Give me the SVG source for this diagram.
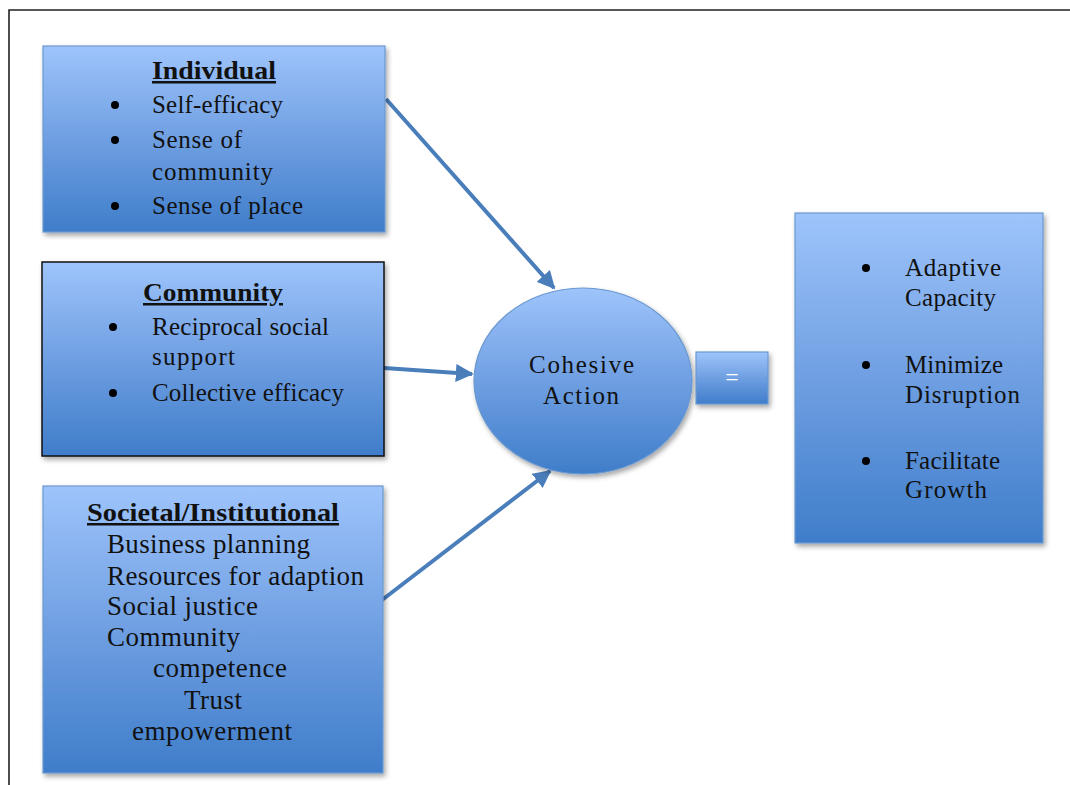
<svg xmlns="http://www.w3.org/2000/svg" width="1070" height="785" viewBox="0 0 1070 785">
<style>
.t{font-family:"Liberation Serif","Times New Roman",serif;font-size:25px;fill:#111}
.s{font-size:27px}
.h{font-weight:bold;text-decoration:underline}
.box{fill:url(#g);stroke:#6a98d0;stroke-width:1.2}
.conn{stroke:#4a7ebb;stroke-width:4;fill:none;marker-end:url(#ah)}
</style>
<defs>
<linearGradient id="g" x1="0" y1="0" x2="0" y2="1">
<stop offset="0" stop-color="#9ec4fb"/>
<stop offset="0.5" stop-color="#6f9fe2"/>
<stop offset="1" stop-color="#3f7dca"/>
</linearGradient>
<filter id="sh" x="-10%" y="-10%" width="130%" height="130%">
<feDropShadow dx="2" dy="3" stdDeviation="2.5" flood-color="#000" flood-opacity="0.35"/>
</filter>
<marker id="ah" viewBox="0 0 10 10" refX="9" refY="5" markerWidth="4.5" markerHeight="4.5" orient="auto" markerUnits="strokeWidth">
<path d="M0,0 L10,5 L0,10 z" fill="#4a7ebb"/>
</marker>
</defs>
<rect width="1070" height="785" fill="#fff"/>
<path d="M9,785 V10 H1070" fill="none" stroke="#222" stroke-width="1.6"/>

<g id="connectors">
<line class="conn" x1="386" y1="99" x2="554" y2="288"/>
<line class="conn" x1="384" y1="368" x2="472" y2="374"/>
<line class="conn" x1="382" y1="600" x2="550" y2="471"/>
</g>

<g id="individual">
<rect class="box" x="43" y="46" width="342" height="186" filter="url(#sh)"/>
<text class="t h" x="152" y="79" textLength="124" lengthAdjust="spacingAndGlyphs">Individual</text>
<circle cx="115" cy="105" r="4" fill="#000"/>
<text class="t" x="152" y="113" textLength="131">Self-efficacy</text>
<circle cx="115" cy="140" r="4" fill="#000"/>
<text class="t" x="152" y="148" textLength="90">Sense of</text>
<text class="t" x="152" y="180" textLength="121">community</text>
<circle cx="115" cy="206" r="4" fill="#000"/>
<text class="t" x="152" y="214" textLength="151">Sense of place</text>
</g>

<g id="community">
<rect x="42" y="262" width="342" height="194" fill="url(#g)" stroke="#111" stroke-width="1.5" filter="url(#sh)"/>
<text class="t h" x="143" y="301" textLength="140" lengthAdjust="spacingAndGlyphs">Community</text>
<circle cx="113" cy="327" r="4" fill="#000"/>
<text class="t" x="152" y="335" textLength="177">Reciprocal social</text>
<text class="t" x="152" y="365" textLength="83">support</text>
<circle cx="113" cy="393" r="4" fill="#000"/>
<text class="t" x="152" y="401" textLength="192">Collective efficacy</text>
</g>

<g id="societal">
<rect class="box" x="43" y="486" width="340" height="287" filter="url(#sh)"/>
<text class="t h" x="87" y="521" textLength="252" lengthAdjust="spacingAndGlyphs">Societal/Institutional</text>
<text class="t s" x="107" y="553" textLength="203">Business planning</text>
<text class="t s" x="107" y="585" textLength="257">Resources for adaption</text>
<text class="t s" x="107" y="615" textLength="151">Social justice</text>
<text class="t s" x="107" y="646" textLength="133">Community</text>
<text class="t s" x="153" y="677" textLength="134">competence</text>
<text class="t s" x="184" y="709" textLength="58">Trust</text>
<text class="t s" x="132" y="740" textLength="160">empowerment</text>
</g>

<g id="cohesive">
<ellipse class="box" cx="583" cy="381" rx="109" ry="93" filter="url(#sh)"/>
<text class="t" x="529" y="373" font-size="27" textLength="105">Cohesive</text>
<text class="t" x="543" y="404" font-size="27" textLength="76">Action</text>
</g>

<g id="equals">
<rect class="box" x="696" y="352" width="72" height="52" filter="url(#sh)"/>
<text x="732" y="385" text-anchor="middle" font-family="Liberation Serif, serif" font-size="24" fill="#fff">=</text>
</g>

<g id="outcomes">
<rect class="box" x="795" y="213" width="248" height="330" filter="url(#sh)"/>
<circle cx="866" cy="268" r="4" fill="#000"/>
<text class="t" x="905" y="276" textLength="96">Adaptive</text>
<text class="t" x="905" y="306" textLength="91">Capacity</text>
<circle cx="866" cy="365" r="4" fill="#000"/>
<text class="t" x="905" y="373" textLength="98">Minimize</text>
<text class="t" x="905" y="403" textLength="115">Disruption</text>
<circle cx="866" cy="461" r="4" fill="#000"/>
<text class="t" x="905" y="469" textLength="95">Facilitate</text>
<text class="t" x="905" y="498" textLength="82">Growth</text>
</g>
</svg>
